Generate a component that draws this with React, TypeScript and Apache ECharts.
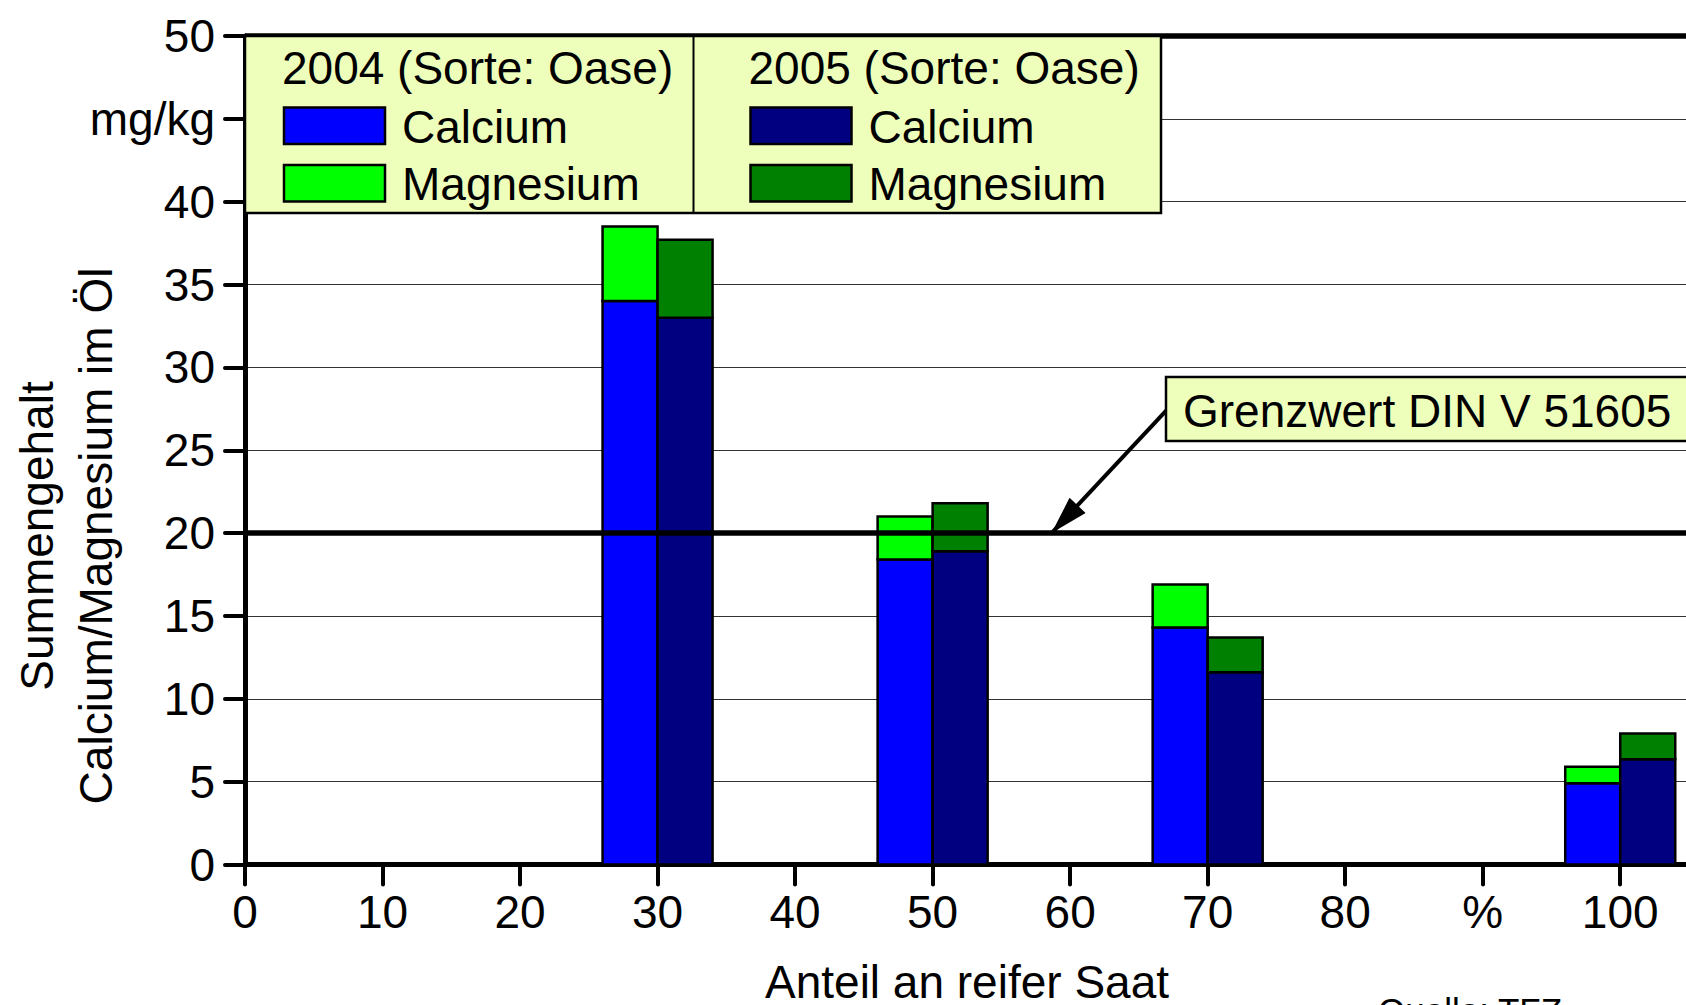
import React, { useEffect, useRef } from "react";
import * as echarts from "echarts";

const FONT = '"Liberation Sans", Arial, Helvetica, sans-serif';

// ---- Data ----
const seedShares = [30, 50, 70, 100]; // Anteil an reifer Saat (%)
const calcium2004 = [34.0, 18.4, 14.3, 4.9];
const magnesium2004 = [4.5, 2.6, 2.6, 1.0];
const calcium2005 = [33.0, 18.9, 11.6, 6.35];
const magnesium2005 = [4.7, 2.9, 2.1, 1.55];
const limitValue = 20;
const limitLabel = "Grenzwert DIN V 51605";
const arrowStart = [67.0, 27.4];
const arrowEnd = [58.65, 20];
const xLabelOverrides: Record<number, string> = { 90: "%" };
const yLabelOverrides: Record<number, string> = { 45: "mg/kg" };
const legendYears = ["2004 (Sorte: Oase)", "2005 (Sorte: Oase)"];
const legendItems = ["Calcium", "Magnesium"];
const colors2004 = ["#0000FF", "#00FF00"];
const colors2005 = ["#000080", "#008000"];
const xTitle = "Anteil an reifer Saat";
const yTitle = "Summengehalt\nCalcium/Magnesium im Öl";
const sourceText = "Quelle: TFZ";

const BAR_UNITS = 4;
const BOX_FILL = "#EEFFBB";

function makeStack(name: string, ca: number[], mg: number[], colors: string[], side: number) {
  return {
    type: "custom",
    name,
    z: 2,
    data: seedShares.map((x, i) => [x, ca[i], mg[i]]),
    encode: { x: 0, y: [1, 2] },
    renderItem: (params: any, api: any) => {
      const x = api.value(0);
      const c = api.value(1);
      const m = api.value(2);
      const x0 = side < 0 ? x - BAR_UNITS : x;
      const x1 = side < 0 ? x : x + BAR_UNITS;
      const bl = api.coord([x0, 0]);
      const t1 = api.coord([x1, c]);
      const t2 = api.coord([x1, c + m]);
      return {
        type: "group",
        children: [
          {
            type: "rect",
            shape: { x: bl[0], y: t1[1], width: t1[0] - bl[0], height: bl[1] - t1[1] },
            style: { fill: colors[0], stroke: "#000", lineWidth: 2.5 },
          },
          {
            type: "rect",
            shape: { x: bl[0], y: t2[1], width: t2[0] - bl[0], height: t1[1] - t2[1] },
            style: { fill: colors[1], stroke: "#000", lineWidth: 2.5 },
          },
        ],
      };
    },
  };
}

function legendColumn(left: number, title: string, colors: string[]) {
  const els: any[] = [
    {
      type: "text",
      x: left - 2,
      y: 68,
      z: 101,
      style: { text: title, fontSize: 46, fontFamily: FONT, fill: "#000", verticalAlign: "middle", align: "left" },
    },
  ];
  legendItems.forEach((item, i) => {
    const y = 107.5 + i * 57.5;
    els.push({
      type: "rect",
      z: 101,
      shape: { x: left, y, width: 101, height: 36.5 },
      style: { fill: colors[i], stroke: "#000", lineWidth: 2.5 },
    });
    els.push({
      type: "text",
      x: left + 118,
      y: y + 19,
      z: 101,
      style: { text: item, fontSize: 46, fontFamily: FONT, fill: "#000", verticalAlign: "middle", align: "left" },
    });
  });
  return els;
}

export default function App() {
  const ref = useRef<HTMLDivElement>(null);
  useEffect(() => {
    if (!ref.current) return;
    const chart = echarts.init(ref.current, null, { renderer: "svg" });
    const option: any = {
      animation: false,
      backgroundColor: "#fff",
      textStyle: { fontFamily: FONT },
      grid: { left: 245, top: 36, right: -3, bottom: 140.5, containLabel: false, outerBoundsMode: "none" },
      xAxis: {
        type: "value",
        min: 0,
        max: 105,
        interval: 10,
        name: xTitle,
        nameLocation: "middle",
        nameGap: 94,
        nameTextStyle: { fontSize: 46, color: "#000", fontFamily: FONT },
        axisLine: { show: true, onZero: false, lineStyle: { color: "#000", width: 5 } },
        axisTick: { show: true, length: 20, lineStyle: { color: "#000", width: 4, cap: "round" } },
        axisLabel: {
          fontSize: 46,
          color: "#000",
          fontFamily: FONT,
          margin: 24,
          formatter: (v: number) => (v > 100 ? "" : xLabelOverrides[v] ?? String(v)),
        },
        splitLine: { show: false },
      },
      yAxis: {
        type: "value",
        min: 0,
        max: 50,
        interval: 5,
        axisLine: { show: true, lineStyle: { color: "#000", width: 5 } },
        axisTick: { show: true, length: 20, lineStyle: { color: "#000", width: 4, cap: "round" } },
        axisLabel: {
          fontSize: 46,
          color: "#000",
          fontFamily: FONT,
          margin: 30,
          formatter: (v: number) => yLabelOverrides[v] ?? String(v),
        },
        splitLine: { show: true, lineStyle: { color: "#333", width: 1.2 } },
      },
      series: [
        makeStack("2004", calcium2004, magnesium2004, colors2004, -1),
        makeStack("2005", calcium2005, magnesium2005, colors2005, 1),
        {
          type: "line",
          name: "limits",
          data: [],
          z: 4,
          clip: false,
          silent: true,
          markLine: {
            silent: true,
            animation: false,
            symbol: "none",
            label: { show: false },
            emphasis: { disabled: true },
            lineStyle: { color: "#000", width: 5.5, type: "solid" },
            data: [{ yAxis: limitValue }, { yAxis: 50 }],
          },
        },
        {
          type: "line",
          name: "arrow",
          data: [],
          z: 5,
          clip: false,
          silent: true,
          markLine: {
            silent: true,
            animation: false,
            symbol: ["none", "triangle"],
            symbolSize: [22, 38],
            symbolOffset: [0, [0, "50%"]],
            label: { show: false },
            emphasis: { disabled: true },
            lineStyle: { color: "#000", width: 4, type: "solid" },
            itemStyle: { color: "#000" },
            data: [[{ coord: arrowStart }, { coord: arrowEnd }]],
          },
        },
      ],
      graphic: [
        {
          type: "rect",
          z: 100,
          shape: { x: 245, y: 36, width: 916, height: 177 },
          style: { fill: BOX_FILL, stroke: "#000", lineWidth: 2.5 },
        },
        {
          type: "line",
          z: 101,
          shape: { x1: 693.5, y1: 36, x2: 693.5, y2: 213 },
          style: { stroke: "#000", lineWidth: 2 },
        },
        ...legendColumn(284, legendYears[0], colors2004),
        ...legendColumn(750.5, legendYears[1], colors2005),
        {
          type: "rect",
          z: 100,
          shape: { x: 1166, y: 377, width: 600, height: 64 },
          style: { fill: BOX_FILL, stroke: "#000", lineWidth: 2.5 },
        },
        {
          type: "text",
          z: 101,
          x: 1183,
          y: 411,
          style: { text: limitLabel, fontSize: 46, fontFamily: FONT, fill: "#000", verticalAlign: "middle", align: "left" },
        },
        {
          type: "text",
          z: 101,
          x: 66,
          y: 536,
          rotation: Math.PI / 2,
          style: {
            text: yTitle,
            fontSize: 46,
            fontFamily: FONT,
            fill: "#000",
            align: "center",
            verticalAlign: "middle",
            lineHeight: 59,
          },
        },
        {
          type: "text",
          z: 101,
          x: 1378,
          y: 993,
          style: { text: sourceText, fontSize: 35, fontFamily: FONT, fill: "#000", verticalAlign: "top", align: "left" },
        },
      ],
    };
    chart.setOption(option);
    return () => chart.dispose();
  }, []);
  return (
    <div
      ref={ref}
      style={{ position: "absolute", left: 0, top: 0, width: 1686, height: 1005, background: "#fff" }}
    />
  );
}
